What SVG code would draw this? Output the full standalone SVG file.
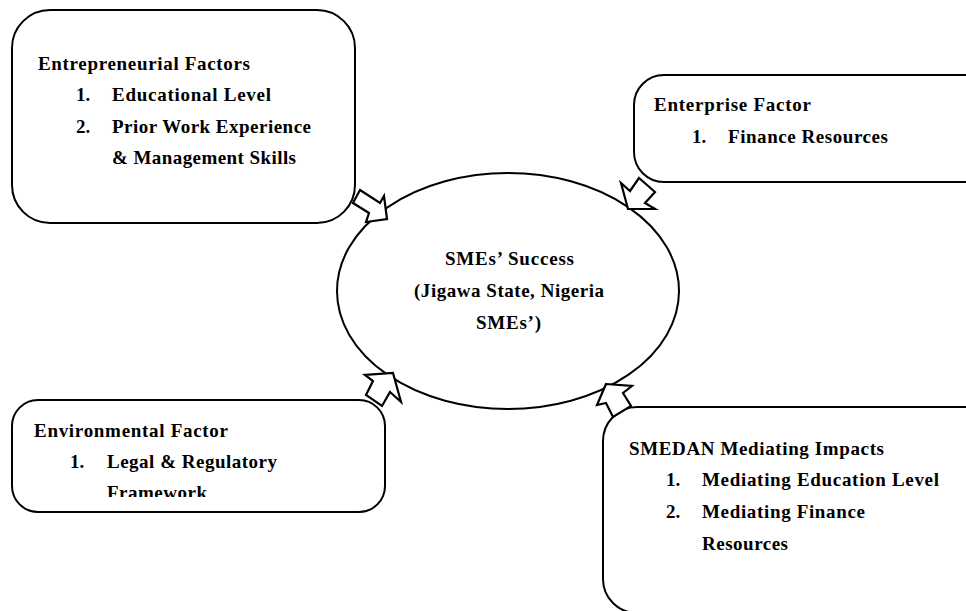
<svg xmlns="http://www.w3.org/2000/svg" width="966" height="611" viewBox="0 0 966 611">
<style>
.box{fill:#fff;stroke:#000;stroke-width:2}
.arr{fill:#fff;stroke:#000;stroke-width:2.2;stroke-linejoin:miter}
text{font-family:"Liberation Serif","Times New Roman",serif;font-weight:bold;font-size:19px;fill:#000}
.c{text-anchor:middle}
</style>
<defs>
<clipPath id="clipEnv"><rect x="0" y="390" width="400" height="107"/></clipPath>
</defs>
<rect width="966" height="611" fill="#fff"/>
<g id="entrepreneurial">
<rect class="box" x="12" y="10" width="343" height="213" rx="38" ry="38"/>
<text x="38" y="70" textLength="212" lengthAdjust="spacing">Entrepreneurial Factors</text>
<text x="76" y="101">1.</text><text x="112" y="101" textLength="159" lengthAdjust="spacing">Educational Level</text>
<text x="76" y="133">2.</text><text x="112" y="133" textLength="199" lengthAdjust="spacing">Prior Work Experience</text>
<text x="112" y="164" textLength="184" lengthAdjust="spacing">&amp; Management Skills</text>
</g>
<g id="enterprise">
<rect class="box" x="634" y="75" width="380" height="107" rx="30" ry="30"/>
<text x="654" y="111" textLength="157" lengthAdjust="spacing">Enterprise Factor</text>
<text x="692" y="143">1.</text><text x="728" y="143" textLength="160" lengthAdjust="spacing">Finance Resources</text>
</g>
<g id="environmental">
<rect class="box" x="12" y="400" width="373" height="112" rx="26" ry="26"/>
<text x="34" y="437" textLength="194" lengthAdjust="spacing">Environmental Factor</text>
<text x="70" y="468">1.</text><text x="107" y="468" textLength="170" lengthAdjust="spacing">Legal &amp; Regulatory</text>
<text x="107" y="499" textLength="100" lengthAdjust="spacing" clip-path="url(#clipEnv)">Framework</text>
</g>
<g id="smedan">
<rect class="box" x="603" y="407" width="420" height="206" rx="34" ry="34"/>
<text x="629" y="455" textLength="255" lengthAdjust="spacing">SMEDAN Mediating Impacts</text>
<text x="666" y="486">1.</text><text x="702" y="486" textLength="237" lengthAdjust="spacing">Mediating Education Level</text>
<text x="666" y="518">2.</text><text x="702" y="518" textLength="163" lengthAdjust="spacing">Mediating Finance</text>
<text x="702" y="550" textLength="86" lengthAdjust="spacing">Resources</text>
</g>
<g id="success">
<ellipse class="box" cx="508" cy="291" rx="171" ry="118"/>
<text x="445" y="265" textLength="129" lengthAdjust="spacing">SMEs’ Success</text>
<text x="414" y="297" textLength="190" lengthAdjust="spacing">(Jigawa State, Nigeria</text>
<text x="476" y="329" textLength="65" lengthAdjust="spacing">SMEs’)</text>
</g>
<g id="connectors">
<polygon class="arr" points="360,190 380,203 384,196 387,219 366,222 369,213 353,203"/>
<polygon class="arr" points="639,178 655,192 645,203 655,209 628,209 621,183 630,191"/>
<polygon class="arr" points="393,373 401,402 390,392 382,406 366,395 373,381 365,375"/>
<polygon class="arr" points="606,384 632,386 623,393 631,406 613,417 606,403 597,405"/>
</g>
</svg>
